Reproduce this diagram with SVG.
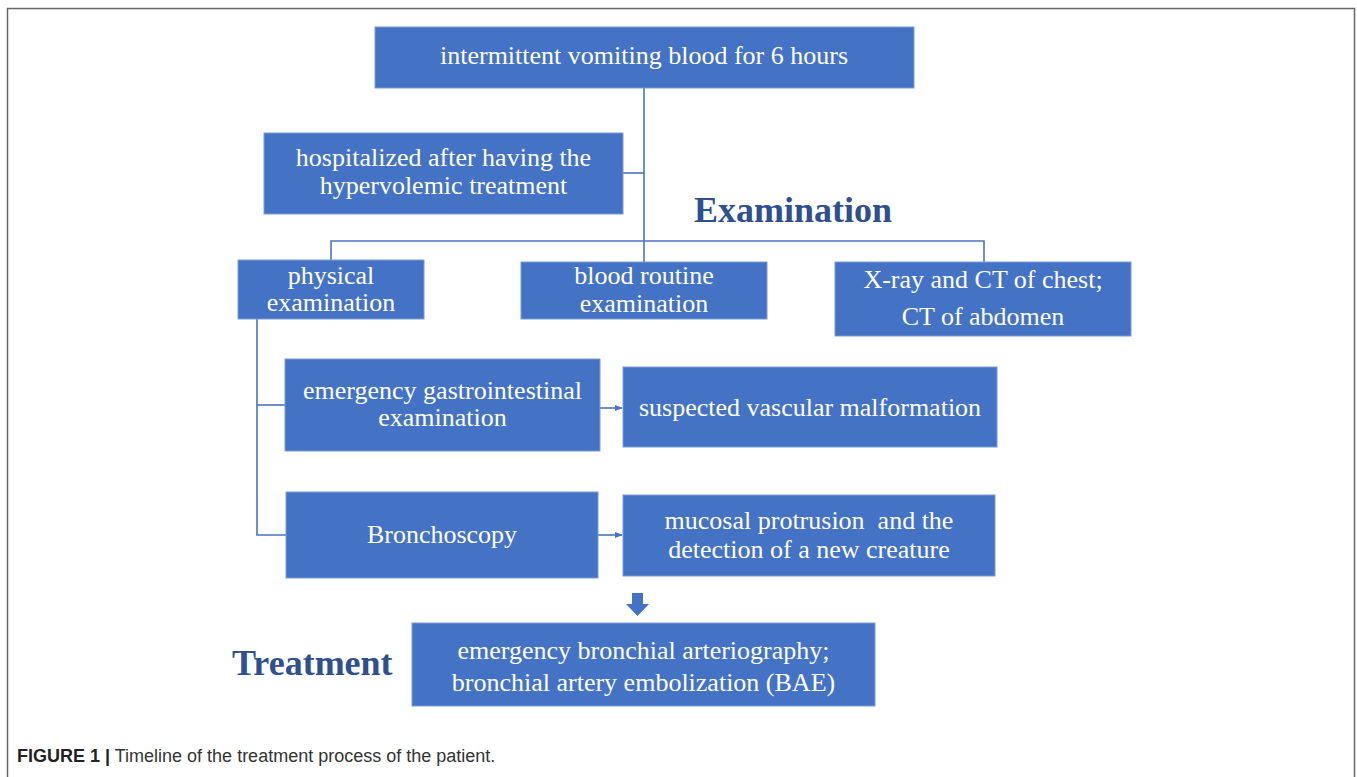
<svg xmlns="http://www.w3.org/2000/svg" width="1357" height="777" viewBox="0 0 1357 777">
<defs>
<style>
.box{fill:#4472C4;stroke:#7A9BD6;stroke-width:1}
.t{font-family:"Liberation Serif","Times New Roman",serif;font-size:26px;fill:#ffffff;text-anchor:middle;white-space:pre}
.h{font-family:"Liberation Serif","Times New Roman",serif;font-weight:bold;fill:#2F4F8E}
.ln{fill:none;stroke:#4A74C0;stroke-width:1.6}
.cap{font-family:"Liberation Sans",Arial,sans-serif;font-size:18px;fill:#333333}
</style>
<marker id="arr" viewBox="0 0 10 10" refX="9" refY="5" markerWidth="5" markerHeight="5" orient="auto" markerUnits="strokeWidth">
<path d="M0,1 L10,5 L0,9 z" fill="#4A74C0"/>
</marker>
</defs>
<rect x="0" y="0" width="1357" height="777" fill="#ffffff"/>
<path d="M7.5,790 V8.5 H1354.5 V790" fill="none" stroke="#666666" stroke-width="1.5"/>

<g id="connectors">
<path class="ln" d="M644,88 V262"/>
<path class="ln" d="M623,173 H644"/>
<path class="ln" d="M331,260 V241 H984 V262"/>
<path class="ln" d="M257,319 V535 H286"/>
<path class="ln" d="M257,405 H285"/>
<path class="ln" d="M600,408 H622" marker-end="url(#arr)"/>
<path class="ln" d="M598,535 H622" marker-end="url(#arr)"/>
<path d="M632,593 H643 V604 H649 L637.5,616 L626,604 H632 Z" fill="#4472C4"/>
</g>

<g id="n-vomiting">
<rect class="box" x="375" y="27" width="539" height="61"/>
<text class="t" x="644" y="64">intermittent vomiting blood for 6 hours</text>
</g>
<g id="n-hospitalized">
<rect class="box" x="264" y="133" width="359" height="81"/>
<text class="t" x="443.5" y="166">hospitalized after having the</text>
<text class="t" x="443.5" y="194">hypervolemic treatment</text>
</g>
<g id="l-examination">
<text class="h" x="694" y="222" font-size="36">Examination</text>
</g>
<g id="n-physical">
<rect class="box" x="238" y="260" width="186" height="59"/>
<text class="t" x="331" y="284">physical</text>
<text class="t" x="331" y="311">examination</text>
</g>
<g id="n-blood">
<rect class="box" x="521" y="262" width="246" height="57"/>
<text class="t" x="644" y="284">blood routine</text>
<text class="t" x="644" y="312">examination</text>
</g>
<g id="n-xray">
<rect class="box" x="835" y="262" width="296" height="74"/>
<text class="t" x="983" y="288">X-ray and CT of chest;</text>
<text class="t" x="983" y="325">CT of abdomen</text>
</g>
<g id="n-emergency-gi">
<rect class="box" x="285" y="359" width="315" height="92"/>
<text class="t" x="442.5" y="399">emergency gastrointestinal</text>
<text class="t" x="442.5" y="426">examination</text>
</g>
<g id="n-suspected">
<rect class="box" x="623" y="367" width="374" height="80"/>
<text class="t" x="810" y="416">suspected vascular malformation</text>
</g>
<g id="n-bronchoscopy">
<rect class="box" x="286" y="492" width="312" height="86"/>
<text class="t" x="442" y="543">Bronchoscopy</text>
</g>
<g id="n-mucosal">
<rect class="box" x="623" y="495" width="372" height="81"/>
<text class="t" x="809" y="529">mucosal protrusion  and the</text>
<text class="t" x="809" y="558">detection of a new creature</text>
</g>
<g id="l-treatment">
<text class="h" x="232" y="675" font-size="36">Treatment</text>
</g>
<g id="n-treatment">
<rect class="box" x="412" y="623" width="463" height="83"/>
<text class="t" x="643.5" y="659" font-size="27">emergency bronchial arteriography;</text>
<text class="t" x="643.5" y="691" font-size="27">bronchial artery embolization (BAE)</text>
</g>
<g id="caption">
<text class="cap" x="17" y="762"><tspan font-weight="bold" fill="#222222">FIGURE 1 |</tspan> Timeline of the treatment process of the patient.</text>
</g>
</svg>
